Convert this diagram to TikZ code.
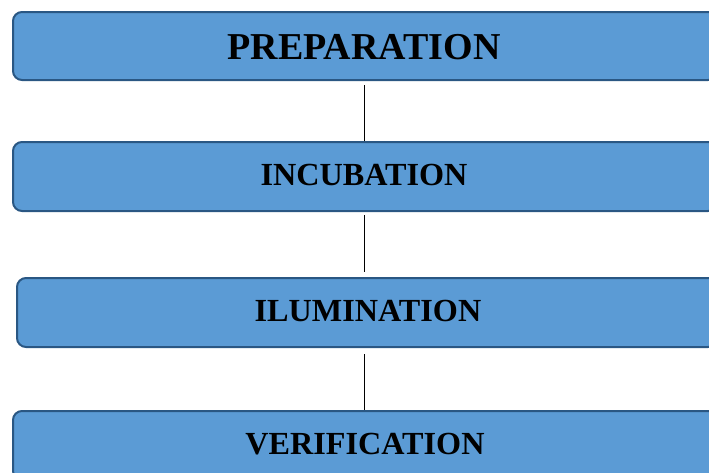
\documentclass[tikz,border=0pt]{standalone}
\usepackage{fontspec}
\setmainfont{Liberation Serif}
\definecolor{boxfill}{HTML}{5B9BD5}
\definecolor{boxline}{HTML}{2A5783}
\begin{document}
\begin{tikzpicture}[x=1pt,y=-1pt,
  stagebox/.style={draw=boxline,line width=2pt,fill=boxfill,rounded corners=9pt,
    inner sep=0pt,anchor=north west},
  bigtext/.style={font=\bfseries\fontsize{38}{40}\selectfont},
  stagetext/.style={font=\bfseries\fontsize{32.2}{34}\selectfont},
  link/.style={draw=black,line width=1pt}]
\useasboundingbox (0,0) rectangle (709,472);
\clip (0,0) rectangle (709,472);
\node[stagebox,minimum width=704pt,minimum height=68pt] (b1) at (12,11) {};
\node[bigtext] (t1) at (364,47) {PREPARATION};
\node[stagebox,minimum width=704pt,minimum height=69pt] (b2) at (12,141) {};
\node[stagetext] (t2) at (364,175) {INCUBATION};
\node[stagebox,minimum width=700pt,minimum height=69pt] (b3) at (16,277) {};
\node[stagetext] (t3) at (368,311) {ILUMINATION};
\node[stagebox,minimum width=704pt,minimum height=69pt] (b4) at (12,410) {};
\node[stagetext] (t4) at (365,444) {VERIFICATION};
\coordinate (c1a) at (364.5,85);
\coordinate (c2a) at (364.5,215);
\coordinate (c2b) at (364.5,272);
\coordinate (c3a) at (364.5,354);
\draw[link] (c1a) -- (c1a |- b2.north);
\draw[link] (c2a) -- (c2b);
\draw[link] (c3a) -- (c3a |- b4.north);
\end{tikzpicture}
\end{document}
